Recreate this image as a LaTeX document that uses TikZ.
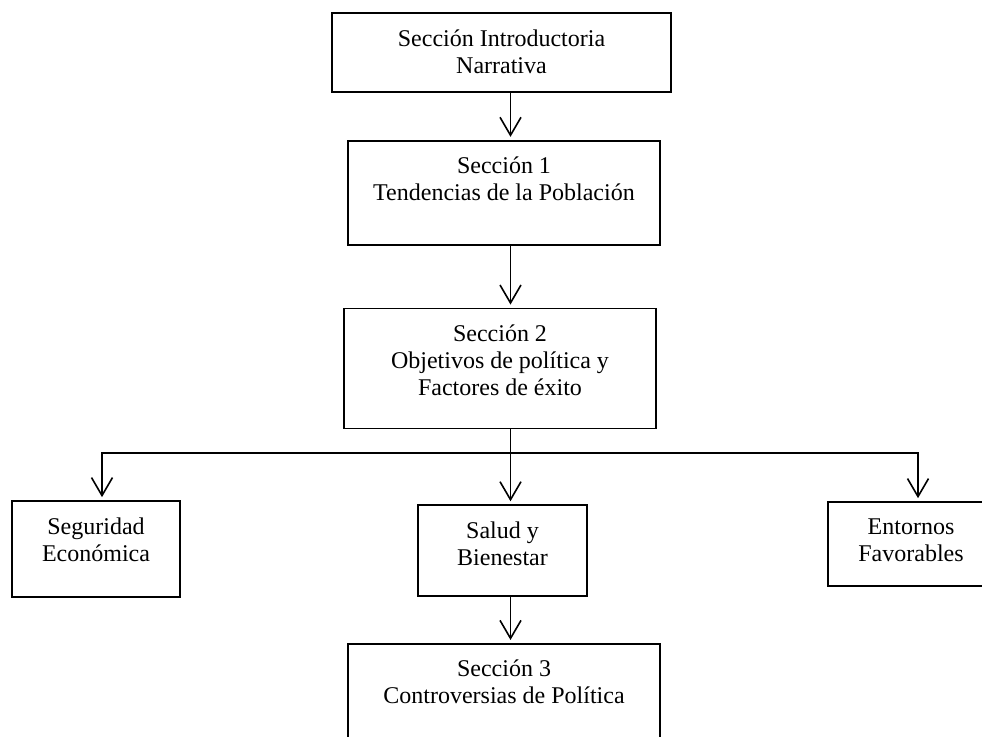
\documentclass[tikz,border=0pt]{standalone}
\usepackage{fontspec}
\setmainfont{Liberation Serif}
\usetikzlibrary{positioning,arrows.meta}

\begin{document}
\begin{tikzpicture}[x=1pt, y=-1pt, font=\fontsize{24}{27}\selectfont,
    box/.style={rectangle, draw, line width=1.7pt},
    lbl/.style={anchor=north, align=center, inner sep=0pt, yshift=-17pt},
    link/.style={->, line width=1.6pt, shorten >=3pt},
    >={Straight Barb[length=18pt,width=21pt]}]

  \path[use as bounding box, clip] (0,0) rectangle (982,736);

  \coordinate (spine) at (510.5,0);
  \coordinate (fork) at (510.5,453);
  \coordinate (lft) at (102,453);
  \coordinate (rgt) at (918,453);

  \node[box, minimum width=339pt, minimum height=79pt,
    label={[lbl, name=intro-t]north:Sección Introductoria\\Narrativa}] (intro) at (501.5,52.5) {};
  \node[box, minimum width=312pt, minimum height=104pt, below=47pt of intro, xshift=2.5pt,
    label={[lbl, name=sec1-t]north:Sección 1\\Tendencias de la Población}] (sec1) {};
  \node[box, minimum width=312pt, minimum height=120pt, below=62pt of sec1, xshift=-4pt,
    label={[lbl, name=sec2-t]north:Sección 2\\Objetivos de política y\\Factores de éxito}] (sec2) {};
  \node[box, minimum width=169pt, minimum height=91pt, below=75pt of sec2, xshift=2.5pt,
    label={[lbl, name=salud-t]north:Salud y\\Bienestar}] (salud) {};
  \node[box, minimum width=312pt, minimum height=105pt, below=46pt of salud, xshift=1.5pt,
    label={[lbl, name=sec3-t]north:Sección 3\\Controversias de Política}] (sec3) {};

  \node[box, minimum width=168pt, minimum height=96pt,
    label={[lbl, name=seg-t]north:Seguridad\\Económica}] (seg) at (96,549) {};
  \node[box, minimum width=166pt, minimum height=84pt,
    label={[lbl, name=ent-t]north:Entornos\\Favorables}] (ent) at (911,544) {};

  \draw[link] (intro.south -| spine) -- (sec1.north -| spine);
  \draw[link] (sec1.south -| spine) -- (sec2.north -| spine);
  \draw[link] (sec2.south -| fork) -- (salud.north -| fork);
  \draw[link] (fork) -| (seg.north -| lft);
  \draw[link] (fork) -| (ent.north -| rgt);
  \draw[link] (salud.south -| spine) -- (sec3.north -| spine);

\end{tikzpicture}
\end{document}
